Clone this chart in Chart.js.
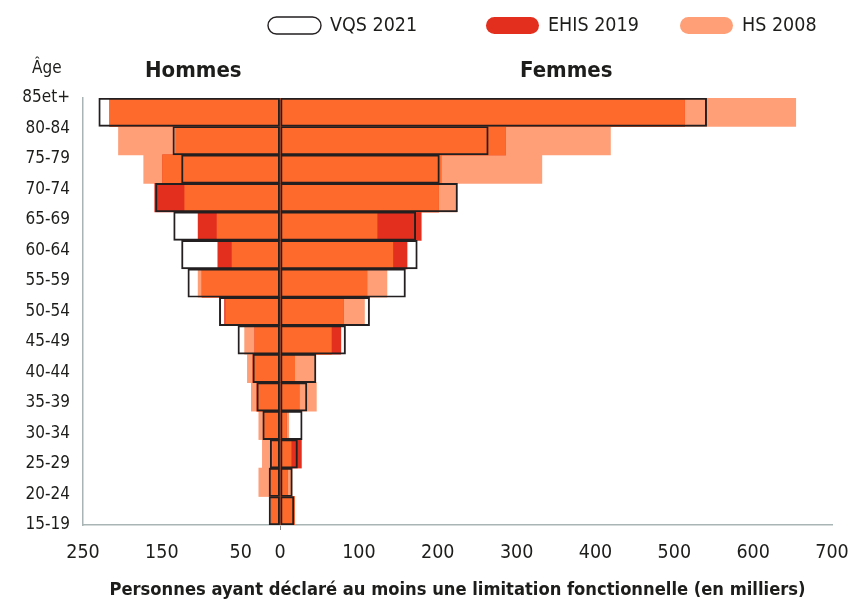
<!DOCTYPE html>
<html lang="fr">
<head>
<meta charset="utf-8">
<title>Personnes ayant déclaré au moins une limitation fonctionnelle</title>
<script src="https://cdn.jsdelivr.net/npm/chart.js@4.4.1/dist/chart.umd.min.js"></script>
<style>
  html, body { margin: 0; padding: 0; background: #fff; }
  #wrap { width: 850px; height: 601px; position: relative; }
</style>
</head>
<body>
<div id="wrap"><canvas id="pyramid"></canvas></div>
<script>
// age groups, top of the pyramid first
const ages = ['85et+', '80-84', '75-79', '70-74', '65-69', '60-64', '55-59', '50-54',
              '45-49', '40-44', '35-39', '30-34', '25-29', '20-24', '15-19'];

// values in thousands
const vqsHommes  = [230, 136, 125, 158, 135, 125, 117, 77, 53.5, 34.5, 29.5, 22, 12.5, 14, 14];
const ehisHommes = [216, 132, 149, 159, 104, 79, 99, 70.5, 32, 34.5, 29.5, 21, 9, 13, 11];
const hsHommes   = [216, 205, 173, 121, 80, 61, 104, 69, 45, 41.5, 36.5, 27, 22.5, 27, 13.5];

const vqsFemmes  = [541, 264, 202, 225, 172, 174, 159, 113.5, 83, 45.5, 34, 28, 22, 15.5, 17.5];
const ehisFemmes = [513, 286, 204, 201, 179, 161, 110, 80.5, 77, 18.5, 24, 8, 27, 9, 18];
const hsFemmes   = [654, 419, 332, 224, 123, 143, 135.5, 107, 65, 45, 46, 11, 14, 15, 18];

const seriesNames = ['VQS 2021', 'EHIS 2019', 'HS 2008'];
const xTickValues = [-250, -150, -50, 0, 100, 200, 300, 400, 500, 600, 700];

const FONT = "'DejaVu Sans Condensed', 'Liberation Sans Narrow', sans-serif";
const INK = '#1d1d1b';
const OUTLINE = '#231f20';
const AXIS_GREY = '#a9b5b5';
const ORANGE = '#fe6a2c';   // where EHIS 2019 and HS 2008 overlap
const RED = '#e22f1e';
const SALMON = '#fe9f78';

function bars(label, values, sign, extra) {
    return Object.assign({
        label: label,
        data: values.map(v => v * sign),
        grouped: false,
        barPercentage: 1,
        categoryPercentage: 1,
        borderWidth: 0
    }, extra);
}

function overlap(a, b) {
    return a.map((v, i) => Math.min(v, b[i]));
}

const outlineStyle = {
    backgroundColor: 'rgba(0,0,0,0)',
    borderColor: OUTLINE,
    borderWidth: 1.3,
    borderSkipped: false,
    order: 0
};

const datasets = [
    bars(seriesNames[0], vqsHommes, -1, outlineStyle),
    bars(seriesNames[0], vqsFemmes, 1, outlineStyle),
    bars('commun', overlap(ehisHommes, hsHommes), -1, { backgroundColor: ORANGE, order: 1 }),
    bars('commun', overlap(ehisFemmes, hsFemmes), 1, { backgroundColor: ORANGE, order: 1 }),
    bars(seriesNames[1], ehisHommes, -1, { backgroundColor: RED, order: 2 }),
    bars(seriesNames[1], ehisFemmes, 1, { backgroundColor: RED, order: 2 }),
    bars(seriesNames[2], hsHommes, -1, { backgroundColor: SALMON, order: 3 }),
    bars(seriesNames[2], hsFemmes, 1, { backgroundColor: SALMON, order: 3 })
];

function pill(ctx, x, y, w, h) {
    const r = h / 2;
    ctx.beginPath();
    ctx.moveTo(x + r, y);
    ctx.lineTo(x + w - r, y);
    ctx.arc(x + w - r, y + r, r, -Math.PI / 2, Math.PI / 2);
    ctx.lineTo(x + r, y + h);
    ctx.arc(x + r, y + r, r, Math.PI / 2, Math.PI * 1.5);
    ctx.closePath();
}

// legend pills and the header words
const headerPlugin = {
    id: 'header',
    afterDraw(chart) {
        const ctx = chart.ctx;
        const legend = [
            { x: 268, fill: '#ffffff', stroke: OUTLINE },
            { x: 486, fill: RED, stroke: null },
            { x: 680, fill: SALMON, stroke: null }
        ];
        ctx.save();
        ctx.textBaseline = 'middle';
        ctx.textAlign = 'left';
        legend.forEach((item, i) => {
            pill(ctx, item.x, 17, 53, 17);
            ctx.fillStyle = item.fill;
            ctx.fill();
            if (item.stroke) {
                ctx.strokeStyle = item.stroke;
                ctx.lineWidth = 1.4;
                ctx.stroke();
            }
            ctx.fillStyle = INK;
            ctx.font = '19.5px ' + FONT;
            ctx.fillText(seriesNames[i], item.x + 62, 26);
        });

        ctx.font = '17px ' + FONT;
        ctx.fillText('Âge', 32, 69);
        ctx.font = 'bold 22px ' + FONT;
        ctx.fillText('Hommes', 145, 71);
        ctx.fillText('Femmes', 520, 71);
        ctx.restore();
    }
};

new Chart(document.getElementById('pyramid'), {
    type: 'bar',
    data: { labels: ages, datasets: datasets },
    options: {
        indexAxis: 'y',
        responsive: true,
        maintainAspectRatio: false,
        animation: false,
        layout: { padding: { top: 98, right: 18, bottom: 0, left: 0 } },
        plugins: {
            legend: { display: false },
            tooltip: { enabled: false }
        },
        scales: {
            x: {
                type: 'linear',
                min: -250,
                max: 700,
                afterBuildTicks: (scale) => { scale.ticks = xTickValues.map(v => ({ value: v })); },
                afterFit: (scale) => {
                    scale.height = 76;
                    scale.paddingLeft = 0;
                    scale.paddingRight = 0;
                },
                ticks: {
                    autoSkip: false,
                    maxRotation: 0,
                    padding: 11,
                    color: INK,
                    font: { family: FONT, size: 19.5 },
                    callback: (v) => Math.abs(v)
                },
                grid: {
                    drawOnChartArea: false,
                    drawTicks: true,
                    tickLength: 5,
                    color: (c) => (c.tick && c.tick.value === 0 ? '#8a8a8a' : 'rgba(0,0,0,0)')
                },
                border: { display: true, color: AXIS_GREY, width: 1.5 },
                title: {
                    display: true,
                    text: 'Personnes ayant déclaré au moins une limitation fonctionnelle (en milliers)',
                    color: INK,
                    font: { family: FONT, size: 18.2, weight: 'bold', lineHeight: 1 },
                    padding: { top: 0, bottom: 2 }
                }
            },
            y: {
                type: 'category',
                display: false,
                offset: true
            },
            ages: {
                type: 'category',
                labels: ages,
                position: 'left',
                offset: false,
                afterFit: (scale) => { scale.width = 83; },
                ticks: {
                    autoSkip: false,
                    padding: 13,
                    color: INK,
                    font: { family: FONT, size: 17 }
                },
                grid: { drawOnChartArea: false, drawTicks: false },
                border: { display: true, color: AXIS_GREY, width: 1.5 }
            }
        }
    },
    plugins: [headerPlugin]
});
</script>
</body>
</html>
